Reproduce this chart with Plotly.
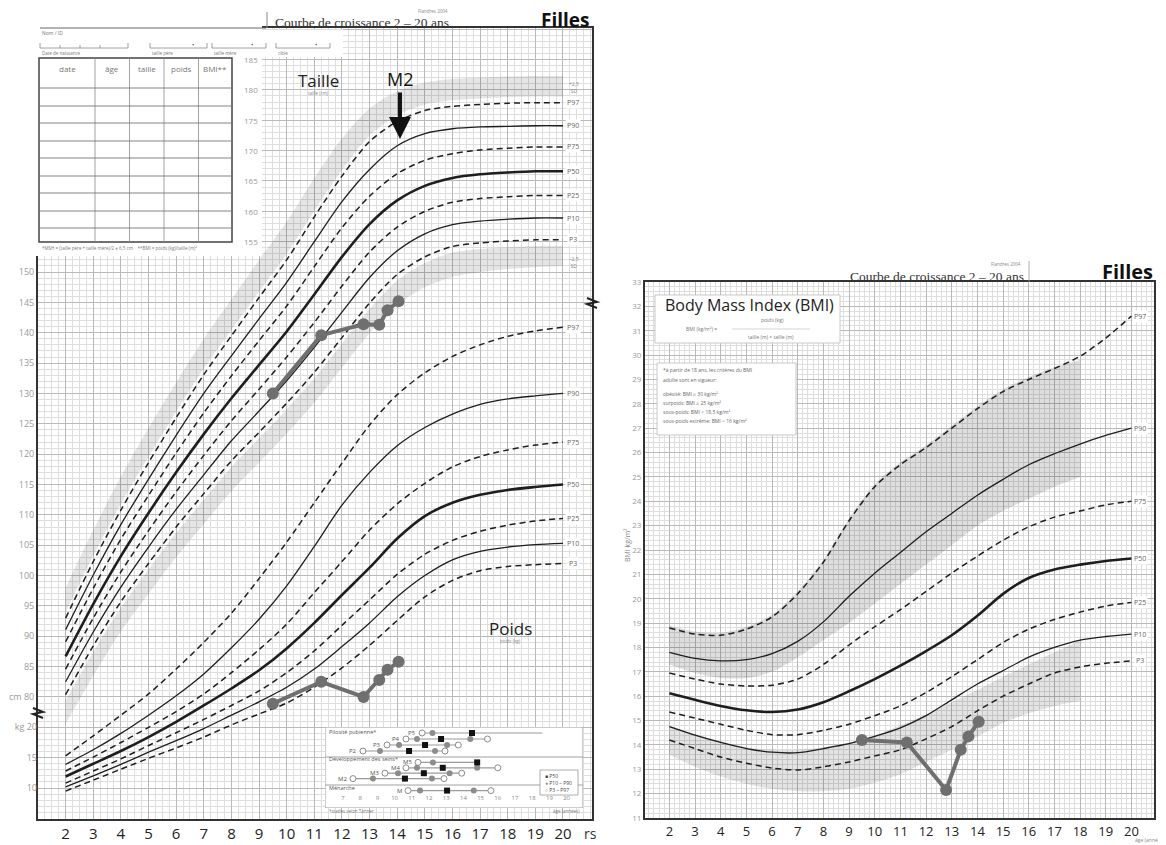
import plotly.graph_objects as go

# The page body adds an 8 px margin, so the figure is drawn 8 px smaller and all
# layout positions (given in screen pixels) are shifted by that offset.
OFF = 8
W, H = 1166 - OFF, 845 - OFF


def fx(p):
    return (p - OFF) / W


def fy(p):
    return 1 - (p - OFF) / H


# ---------------- data ----------------
ages = [2, 3, 4, 5, 6, 7, 8, 9, 10, 11, 12, 13, 14, 15, 16, 17, 18, 19, 20]
pct_names = ["P97", "P90", "P75", "P50", "P25", "P10", "P3"]

# height (cm)
h_p97 = [93.0, 102.3, 110.8, 118.6, 126.0, 133.1, 139.5, 145.8, 152.0, 159.1, 165.8, 171.5, 174.8, 176.6, 177.3, 177.6, 177.8, 177.9, 177.9]
h_p90 = [91.1, 100.1, 108.4, 115.9, 123.1, 130.0, 136.2, 142.3, 148.3, 155.0, 161.6, 166.9, 170.8, 172.8, 173.6, 173.9, 174.0, 174.1, 174.1]
h_p75 = [89.1, 97.9, 106.0, 113.2, 120.2, 126.8, 132.9, 138.7, 144.4, 150.9, 157.3, 162.5, 166.2, 168.4, 169.5, 170.1, 170.4, 170.6, 170.6]
h_p50 = [86.7, 95.3, 103.2, 110.3, 117.0, 123.3, 129.2, 134.7, 140.2, 146.3, 152.5, 157.9, 161.8, 164.2, 165.5, 166.1, 166.4, 166.6, 166.6]
h_p25 = [84.6, 93.0, 100.6, 107.4, 113.8, 119.8, 125.5, 130.7, 136.0, 141.7, 147.7, 153.3, 157.4, 160.0, 161.5, 162.1, 162.4, 162.6, 162.6]
h_p10 = [82.5, 90.7, 98.1, 104.7, 110.9, 116.6, 122.2, 127.1, 132.1, 137.6, 143.4, 149.1, 153.5, 156.3, 157.8, 158.4, 158.7, 158.9, 158.9]
h_p3 = [80.4, 88.4, 95.7, 102.0, 108.0, 113.5, 118.9, 123.6, 128.4, 133.5, 139.2, 144.9, 149.6, 152.5, 154.2, 154.8, 155.1, 155.3, 155.3]

# shaded zones along the outer height curves
hb_up_lo = [94.0, 103.3, 111.8, 119.6, 127.0, 134.1, 140.5, 146.8, 153.0, 160.1, 166.8, 172.5, 175.8, 177.6, 178.3, 178.6, 178.8, 178.9, 178.9]
hb_up_hi = [98.0, 107.5, 116.3, 124.3, 131.8, 139.0, 145.5, 152.0, 158.3, 165.5, 172.0, 177.0, 179.8, 181.2, 181.8, 182.0, 182.2, 182.3, 182.3]
hb_lo_hi = [79.4, 87.4, 94.7, 101.0, 107.0, 112.5, 117.9, 122.6, 127.4, 132.5, 138.2, 143.9, 148.6, 151.5, 153.2, 153.8, 154.1, 154.3, 154.3]
hb_lo_lo = [75.6, 83.5, 90.8, 97.0, 103.0, 108.5, 113.9, 118.6, 123.4, 128.5, 134.2, 139.9, 144.6, 147.5, 149.2, 150.0, 150.5, 150.8, 151.0]

# weight (kg)
w_p97 = [15.3, 18.6, 22.0, 25.5, 29.6, 34.0, 38.8, 44.5, 50.5, 57.0, 63.5, 69.8, 74.8, 78.4, 81.1, 83.0, 84.4, 85.3, 85.9]
w_p90 = [13.9, 16.3, 19.0, 22.0, 25.2, 28.8, 33.1, 37.8, 43.3, 49.8, 56.6, 62.0, 66.4, 69.4, 71.6, 73.2, 74.1, 74.6, 75.0]
w_p75 = [12.8, 15.1, 17.5, 20.0, 22.6, 25.5, 29.0, 32.8, 37.0, 42.2, 47.3, 52.5, 56.8, 60.2, 62.9, 64.6, 65.7, 66.5, 67.0]
w_p50 = [11.9, 14.0, 16.1, 18.4, 20.9, 23.6, 26.4, 29.4, 33.0, 37.2, 41.8, 46.3, 51.1, 54.8, 57.0, 58.3, 59.1, 59.6, 60.0]
w_p25 = [10.8, 12.8, 14.8, 17.0, 19.1, 21.3, 23.6, 26.0, 29.0, 32.6, 36.8, 41.0, 45.2, 48.5, 50.8, 52.3, 53.3, 54.0, 54.4]
w_p10 = [10.2, 12.0, 13.9, 15.9, 17.8, 19.8, 22.0, 24.2, 26.6, 29.6, 33.3, 37.2, 41.5, 45.0, 47.6, 49.0, 49.7, 50.1, 50.3]
w_p3 = [9.5, 11.3, 13.1, 14.9, 16.6, 18.4, 20.4, 22.2, 24.0, 26.6, 29.8, 33.5, 37.6, 41.5, 44.2, 45.8, 46.5, 46.8, 47.0]

# BMI (kg/m2)
b_p97 = [18.8, 18.55, 18.5, 18.75, 19.25, 20.2, 21.5, 23.2, 24.6, 25.5, 26.2, 27.0, 27.8, 28.5, 29.0, 29.45, 29.95, 30.7, 31.6]
b_p90 = [17.8, 17.55, 17.45, 17.5, 17.75, 18.25, 19.05, 20.1, 21.05, 21.9, 22.75, 23.5, 24.25, 24.9, 25.5, 25.95, 26.35, 26.7, 27.0]
b_p75 = [16.95, 16.7, 16.5, 16.42, 16.45, 16.7, 17.3, 18.1, 18.85, 19.55, 20.3, 21.05, 21.75, 22.4, 22.95, 23.35, 23.6, 23.85, 24.0]
b_p50 = [16.12, 15.85, 15.6, 15.42, 15.35, 15.45, 15.75, 16.2, 16.7, 17.25, 17.85, 18.5, 19.3, 20.2, 20.85, 21.2, 21.4, 21.55, 21.65]
b_p25 = [15.35, 15.1, 14.85, 14.6, 14.42, 14.42, 14.6, 14.85, 15.2, 15.6, 16.15, 16.8, 17.5, 18.2, 18.75, 19.15, 19.45, 19.7, 19.85]
b_p10 = [14.75, 14.4, 14.1, 13.85, 13.7, 13.68, 13.85, 14.05, 14.35, 14.7, 15.2, 15.85, 16.5, 17.05, 17.6, 18.0, 18.3, 18.45, 18.55]
b_p3 = [14.2, 13.85, 13.5, 13.25, 13.05, 12.97, 13.1, 13.3, 13.55, 13.8, 14.25, 14.75, 15.4, 16.0, 16.5, 16.95, 17.2, 17.35, 17.45]

band_ages = [2, 3, 4, 5, 6, 7, 8, 9, 10, 11, 12, 13, 14, 15, 16, 17, 18]
ob_lo = [17.3, 16.95, 16.75, 16.75, 17.0, 17.6, 18.3, 19.0, 19.8, 20.6, 21.4, 22.2, 23.0, 23.6, 24.1, 24.6, 25.0]
ob_hi = [18.9, 18.65, 18.6, 18.85, 19.35, 20.3, 21.6, 23.3, 24.7, 25.6, 26.3, 27.1, 27.9, 28.6, 29.1, 29.5, 29.8]
th_hi = [14.8, 14.45, 14.15, 13.9, 13.8, 13.8, 13.9, 14.1, 14.4, 14.8, 15.25, 15.75, 16.25, 16.8, 17.3, 17.8, 18.3]
th_lo = [13.6, 13.1, 12.7, 12.4, 12.2, 12.1, 12.1, 12.2, 12.45, 12.8, 13.3, 13.8, 14.35, 14.9, 15.3, 15.6, 15.8]

# child's measurements
visit_age = [9.5, 11.25, 12.78, 13.35, 13.65, 14.05]
child_height = [130.0, 139.6, 141.4, 141.3, 143.7, 145.2]
child_weight = [23.9, 27.5, 25.0, 27.8, 29.5, 30.8]
child_bmi = [14.2, 14.1, 12.15, 13.8, 14.35, 14.95]

# puberty inset (Tanner stages)
stage_labels = ["P5", "P4", "P3", "P2", "M5", "M4", "M3", "M2", "M"]
stage_rows = [1.0, 2.0, 3.0, 4.0, 5.9, 6.8, 7.7, 8.6, 10.6]
st_p3 = [11.6, 10.66, 9.56, 8.16, 11.36, 10.66, 9.44, 7.58, 10.78]
st_p10 = [12.2, 11.3, 10.26, 9.15, 12.23, 11.3, 10.2, 8.74, 11.48]
st_p50 = [14.5, 12.7, 11.77, 10.84, 14.8, 12.8, 11.7, 10.6, 13.05]
st_p90 = [None, 14.4, 13.05, 12.35, None, 14.8, 13.2, 12.17, 14.6]
st_p97 = [None, 15.4, 13.7, 12.93, None, 16.0, 13.9, 12.87, 15.6]
st_end = [18.6, 15.4, 13.7, 12.93, 14.8, 16.0, 13.9, 12.87, 15.6]
inset_ticks = [7, 8, 9, 10, 11, 12, 13, 14, 15, 16, 17, 18, 19, 20]

height_ticks_left = [80, 85, 90, 95, 100, 105, 110, 115, 120, 125, 130, 135, 140, 145, 150]
height_ticks_top = [155, 160, 165, 170, 175, 180, 185]
height_ticks_right = [150, 155, 160, 165, 170, 175, 180, 185, 190]
weight_ticks_left = [10, 15, 20]
weight_ticks_right = [5, 10, 15, 20, 25, 30, 35, 40, 45, 50, 55, 60, 65, 70, 75, 80, 85]
bmi_ticks = list(range(11, 34))

# ---------------- figure ----------------
fig = go.Figure()
INK = "#1e1e1e"
BAND = "rgba(0,0,0,0.10)"
CHILD = "#6f6f6f"


def band(xs, lo, hi, xa, ya, color):
    fig.add_trace(go.Scatter(x=xs, y=lo, xaxis=xa, yaxis=ya, mode="lines",
                             line=dict(width=0, shape="spline", smoothing=0.8),
                             hoverinfo="skip", showlegend=False))
    fig.add_trace(go.Scatter(x=xs, y=hi, xaxis=xa, yaxis=ya, mode="lines",
                             line=dict(width=0, shape="spline", smoothing=0.8),
                             fill="tonexty", fillcolor=color,
                             hoverinfo="skip", showlegend=False))


band(ages, hb_up_lo, hb_up_hi, "x", "y", BAND)
band(ages, hb_lo_lo, hb_lo_hi, "x", "y", BAND)
band(band_ages, ob_lo, ob_hi, "x2", "y5", "rgba(0,0,0,0.13)")
band(band_ages, th_lo, th_hi, "x2", "y5", "rgba(0,0,0,0.11)")

styles = {
    "P97": dict(width=1.5, dash="6px,4px"),
    "P90": dict(width=1.3),
    "P75": dict(width=1.5, dash="6px,4px"),
    "P50": dict(width=2.6),
    "P25": dict(width=1.5, dash="6px,4px"),
    "P10": dict(width=1.3),
    "P3": dict(width=1.5, dash="6px,4px"),
}


def curves(series, xa, ya):
    for name, vals in zip(pct_names, series):
        fig.add_trace(go.Scatter(x=ages, y=vals, xaxis=xa, yaxis=ya, mode="lines",
                                 line=dict(color=INK, shape="spline", smoothing=0.8,
                                           **styles[name]),
                                 hoverinfo="skip", showlegend=False))


height_series = [h_p97, h_p90, h_p75, h_p50, h_p25, h_p10, h_p3]
weight_series = [w_p97, w_p90, w_p75, w_p50, w_p25, w_p10, w_p3]
bmi_series = [b_p97, b_p90, b_p75, b_p50, b_p25, b_p10, b_p3]
curves(height_series, "x", "y")
curves(weight_series, "x", "y2")
curves(bmi_series, "x2", "y5")

child_style = dict(mode="lines+markers", line=dict(color=CHILD, width=4),
                   marker=dict(color=CHILD, size=12), hoverinfo="skip", showlegend=False)
fig.add_trace(go.Scatter(x=visit_age, y=child_height, xaxis="x", yaxis="y", **child_style))
fig.add_trace(go.Scatter(x=visit_age, y=child_weight, xaxis="x", yaxis="y2", **child_style))
fig.add_trace(go.Scatter(x=visit_age, y=child_bmi, xaxis="x2", yaxis="y5", **child_style))

# ---- puberty inset ----
fig.add_trace(go.Scatter(x=[5.953, 20.953, 20.953, 5.953, 5.953], y=[0, 0, 13.5, 13.5, 0],
                         xaxis="x3", yaxis="y7", mode="lines", fill="toself",
                         fillcolor="rgba(255,255,255,0.78)", line=dict(color="#9a9a9a", width=1),
                         hoverinfo="skip", showlegend=False))
for i in range(len(stage_labels)):
    fig.add_trace(go.Scatter(x=[st_p3[i], st_end[i]], y=[stage_rows[i], stage_rows[i]],
                             xaxis="x3", yaxis="y7", mode="lines",
                             line=dict(color="#9a9a9a", width=1.2),
                             hoverinfo="skip", showlegend=False))
open_x, open_y, grey_x, grey_y = [], [], [], []
for i in range(len(stage_labels)):
    for v in (st_p3[i], st_p97[i]):
        if v is not None:
            open_x.append(v)
            open_y.append(stage_rows[i])
    for v in (st_p10[i], st_p90[i]):
        if v is not None:
            grey_x.append(v)
            grey_y.append(stage_rows[i])
fig.add_trace(go.Scatter(x=open_x, y=open_y, xaxis="x3", yaxis="y7", mode="markers",
                         marker=dict(symbol="circle", size=6, color="white",
                                     line=dict(color="#8a8a8a", width=1)),
                         hoverinfo="skip", showlegend=False))
fig.add_trace(go.Scatter(x=grey_x, y=grey_y, xaxis="x3", yaxis="y7", mode="markers",
                         marker=dict(symbol="circle", size=6, color="#8c8c8c"),
                         hoverinfo="skip", showlegend=False))
fig.add_trace(go.Scatter(x=st_p50, y=stage_rows, xaxis="x3", yaxis="y7", mode="markers",
                         marker=dict(symbol="square", size=6, color="#111"),
                         hoverinfo="skip", showlegend=False))

# ---------------- axes ----------------
GRID = "#b9b9b9"
MINOR = "#dedede"
TICKGREY = dict(size=9, color="#9a9a9a", family="Open Sans")

xr_left = [1.0, 21.05]
yr_h = [59.9, 190.2]
yr_w = [yr_h[0] - 55, yr_h[1] - 55]

fig.update_layout(
    width=W, height=H, margin=dict(l=0, r=0, t=0, b=0, autoexpand=False),
    paper_bgcolor="white", plot_bgcolor="white", showlegend=False,
    xaxis=dict(domain=[fx(38), fx(592)], range=xr_left, anchor="y", automargin=False,
               tickmode="array", tickvals=ages, ticks="",
               tickfont=dict(size=15, color="#222", family="Open Sans"),
               showgrid=True, gridcolor=GRID, gridwidth=0.9, zeroline=False,
               minor=dict(dtick=0.25, tick0=0, showgrid=True, gridcolor=MINOR, gridwidth=0.5),
               showline=True, linecolor="#333", linewidth=2, mirror=True),
    yaxis=dict(domain=[fy(819), fy(28)], range=yr_h, anchor="x", automargin=False,
               tickmode="array", tickvals=list(range(60, 191, 5)),
               ticktext=[("cm 80" if v == 80 else str(v)) if v in height_ticks_left else "" for v in range(60, 191, 5)],
               tickfont=TICKGREY, ticks="",
               showgrid=True, gridcolor=GRID, gridwidth=0.9, zeroline=False,
               minor=dict(dtick=1, tick0=0, showgrid=True, gridcolor=MINOR, gridwidth=0.5),
               showline=True, linecolor="#333", linewidth=2, mirror=True),
    yaxis2=dict(overlaying="y", side="left", anchor="x", range=yr_w, automargin=False,
                tickmode="array", tickvals=weight_ticks_left,
                ticktext=["kg " + str(v) if v == 20 else str(v) for v in weight_ticks_left],
                tickfont=TICKGREY, ticks="", showgrid=False, zeroline=False, showline=False),
    yaxis3=dict(overlaying="y", side="right", anchor="x", range=yr_h, automargin=False,
                tickmode="array", tickvals=height_ticks_right, tickfont=TICKGREY, ticks="",
                showgrid=False, zeroline=False, showline=False),
    yaxis4=dict(overlaying="y", side="right", anchor="x", range=yr_w, automargin=False,
                tickmode="array", tickvals=weight_ticks_right, tickfont=TICKGREY, ticks="",
                showgrid=False, zeroline=False, showline=False),
    xaxis2=dict(domain=[fx(645), fx(1154)], range=[1.05, 20.88], anchor="y5", automargin=False,
                tickmode="array", tickvals=ages, ticks="",
                tickfont=dict(size=13, color="#222", family="Open Sans"),
                showgrid=True, gridcolor=GRID, gridwidth=0.9, zeroline=False,
                minor=dict(dtick=0.2, tick0=0, showgrid=True, gridcolor=MINOR, gridwidth=0.5),
                showline=True, linecolor="#333", linewidth=2, mirror=True),
    yaxis5=dict(domain=[fy(818), fy(282)], range=[11, 33], anchor="x2", automargin=False,
                tickmode="array", tickvals=bmi_ticks, tickfont=dict(size=8, color="#9a9a9a", family="Open Sans"),
                ticks="", showgrid=True, gridcolor=GRID, gridwidth=0.9, zeroline=False,
                minor=dict(dtick=0.2, tick0=0, showgrid=True, gridcolor=MINOR, gridwidth=0.5),
                showline=True, linecolor="#333", linewidth=2, mirror=True),
    yaxis6=dict(overlaying="y5", side="right", anchor="x2", range=[11, 33], automargin=False,
                tickmode="array", tickvals=bmi_ticks, tickfont=dict(size=8, color="#9a9a9a", family="Open Sans"),
                ticks="", showgrid=False, zeroline=False, showline=False),
    xaxis3=dict(domain=[fx(325), fx(583)], range=[5.953, 20.953], anchor="y7", automargin=False,
                tickmode="array", tickvals=inset_ticks, ticks="", ticklabelposition="inside",
                ticklabelstandoff=4,
                tickfont=dict(size=6, color="#888", family="Open Sans"),
                showgrid=False, zeroline=False, showline=False),
    yaxis7=dict(domain=[fy(808), fy(727)], range=[13.5, 0], anchor="x3", visible=False,
                automargin=False),
)

# ---------------- decorations ----------------
shapes = []
ann = []


def rect(x0, y0, x1, y1, fill="white", line="rgba(0,0,0,0)", lw=0):
    shapes.append(dict(type="rect", xref="paper", yref="paper", x0=fx(x0), x1=fx(x1),
                       y0=fy(y1), y1=fy(y0), fillcolor=fill, line=dict(color=line, width=lw),
                       layer="above"))


def hline(x0, x1, y, color="#555", w=1):
    shapes.append(dict(type="line", xref="paper", yref="paper", x0=fx(x0), x1=fx(x1),
                       y0=fy(y), y1=fy(y), line=dict(color=color, width=w), layer="above"))


def vline(x, y0, y1, color="#555", w=1):
    shapes.append(dict(type="line", xref="paper", yref="paper", x0=fx(x), x1=fx(x),
                       y0=fy(y0), y1=fy(y1), line=dict(color=color, width=w), layer="above"))


def text(x, y, s, size=8, color="#666", family="Open Sans", xanchor="center", **kw):
    ann.append(dict(xref="paper", yref="paper", x=fx(x), y=fy(y), text=s, showarrow=False,
                    font=dict(size=size, color=color, family=family), xanchor=xanchor,
                    yanchor="middle", **kw))


# white form area over the top-left of the growth chart
rect(OFF, OFF, 262, 256)
rect(262, 29.5, 343, 57)
# header line + fields
hline(40, 266, 28, "#666", 1)
vline(267, 12, 28, "#888", 1)
text(40, 33, "Nom / ID", 5, "#777", xanchor="left")
for (a, b, lab) in [(40, 128, "Date de naissance"), (150, 207, "taille père"),
                    (212, 266, "taille mère"), (276, 330, "cible")]:
    hline(a, b, 48, "#888", 0.8)
    vline(a, 43, 48, "#888", 0.8)
    vline(b, 43, 48, "#888", 0.8)
    text(a, 53, lab, 4.5, "#777", xanchor="left")
for t in (60, 80, 100):
    vline(t, 45, 48, "#888", 0.8)
for d in (193, 252, 316):
    text(d, 45, "•", 6, "#333")
# table
rect(39, 58, 232, 242, fill="white", line="#444", lw=1.5)
for cx in (95, 129.5, 164, 198.5):
    vline(cx, 58, 242, "#8a8a8a", 0.8)
for ry in (88, 106, 123, 141, 158, 176, 193, 211, 228):
    hline(39, 232, ry, "#777", 0.9)
for cx, lab in zip((67, 112, 147, 181, 215), ("date", "âge", "taille", "poids", "BMI**")):
    text(cx, 68, lab, 8, "#777")
text(40, 248, "*MSH = (taille père + taille mère)/2 ± 6,5 cm    **BMI = poids (kg)/taille (m)²",
     4.5, "#777", xanchor="left")

# top-of-chart height labels sitting left of the grid
for v in height_ticks_top:
    text(251, 29 + (190 - v) * 6.073, str(v), 8, "#9a9a9a")

# headers
text(362, 22.5, "Courbe de croissance 2 – 20 ans", 13.5, "#333", "Liberation Serif", borderpad=0)
text(433, 10.5, "Flandres 2004", 4.5, "#888", borderpad=0)
text(565, 20, "<b>Filles</b>", 19, "#111", "Open Sans", borderpad=0)
text(937, 276, "Courbe de croissance 2 – 20 ans", 13.5, "#333", "Liberation Serif", borderpad=0)
text(1006, 263.5, "Flandres 2004", 4.5, "#888", borderpad=0)
vline(1029, 261, 282, "#999", 0.8)
text(1127, 271, "<b>Filles</b>", 20, "#111", "Open Sans", borderpad=0)

# chart titles
text(318, 80, "Taille", 17, "#222")
text(318, 93, "taille (cm)", 4.5, "#888")
text(510, 628, "Poids", 17, "#222")
text(510, 641, "poids (kg)", 4.5, "#888")
text(590, 833, "rs", 14, "#333")

# M2 arrow on the P90 height curve
ann.append(dict(xref="x", yref="y", x=14.1, y=h_p90[12] + 0.1 * (h_p90[13] - h_p90[12]) + 0.9,
                text="M2", showarrow=True, ax=0, ay=-60, arrowhead=2, arrowsize=1.1,
                arrowwidth=4, arrowcolor="#111", standoff=0,
                font=dict(size=18, color="#111", family="Open Sans")))

# curve end labels
for name, vals in zip(pct_names, height_series):
    ann.append(dict(xref="x", yref="y", x=20.38, y=vals[-1], text=name, showarrow=False,
                    font=dict(size=7, color="#666"), bgcolor="white"))
for name, vals in zip(pct_names, weight_series):
    ann.append(dict(xref="x", yref="y2", x=20.38, y=vals[-1], text=name, showarrow=False,
                    font=dict(size=7, color="#666"), bgcolor="white"))
for name, vals in zip(pct_names, bmi_series):
    ann.append(dict(xref="x2", yref="y5", x=20.35, y=vals[-1], text=name, showarrow=False,
                    font=dict(size=7, color="#666"), bgcolor="white"))
text(574, 88, "+2,5<br>SD", 5, "#888")
text(574, 262, "–2,5<br>SD", 5, "#888")

# axis breaks
for (bx, by) in [(38, 713), (592, 303)]:
    shapes.append(dict(type="path", xref="paper", yref="paper",
                       path="M {} {} L {} {} L {} {} L {} {}".format(
                           fx(bx - 5), fy(by - 5), fx(bx + 5), fy(by - 1),
                           fx(bx - 5), fy(by + 1), fx(bx + 5), fy(by + 5)),
                       line=dict(color="#222", width=2), layer="above"))

# inset texts
for i, lab in enumerate(stage_labels):
    ann.append(dict(xref="x3", yref="y7", x=st_p3[i] - 0.25, y=stage_rows[i], text=lab,
                    showarrow=False, xanchor="right", font=dict(size=6, color="#555")))
for (row, lab) in [(0.8, "Pilosité pubienne*"), (5.4, "Développement des seins*"), (10.15, "Ménarche")]:
    ann.append(dict(xref="x3", yref="y7", x=6.05, y=row, text=lab, showarrow=False,
                    xanchor="left", font=dict(size=5.5, color="#555")))
for row in (5.0, 9.67):
    shapes.append(dict(type="line", xref="x3", yref="y7", x0=5.953, x1=20.953, y0=row, y1=row,
                       line=dict(color="#a0a0a0", width=1), layer="above"))
text(327, 811, "*stades selon Tanner", 4.5, "#777", xanchor="left")
text(582, 811, "âge (années)", 4.5, "#777", xanchor="right")
rect(540, 770, 578, 795, fill="white", line="#999", lw=0.8)
text(543, 776, "■ P50", 5, "#444", xanchor="left")
text(543, 783, "<span style='color:#8c8c8c'>●</span> P10 – P90", 5, "#444", xanchor="left")
text(543, 790, "○ P3 – P97", 5, "#444", xanchor="left")

# BMI info boxes
rect(655, 295, 840, 343, fill="white", line="#c8c8c8", lw=1)
text(749, 305, "Body Mass Index (BMI)", 16, "#222")
text(772, 320, "poids (kg)", 5, "#777")
hline(732, 810, 329, "#bbb", 0.6)
text(701, 329, "BMI (kg/m²) =", 5, "#777")
text(771, 337, "taille (m) × taille (m)", 5, "#777")
rect(657, 363, 796, 435, fill="white", line="#c8c8c8", lw=1)
for yy, s in [(370, "*à partir de 18 ans, les critères du BMI"), (380, "adulte sont en vigueur:"),
              (394, "obésité: BMI ≥ 30 kg/m²"), (403, "surpoids: BMI ≥ 25 kg/m²"),
              (412, "sous-poids: BMI < 18,5 kg/m²"), (421, "sous-poids extrême: BMI < 16 kg/m²")]:
    text(661, yy, s, 5, "#666", xanchor="left")
text(627, 545, "BMI kg/m²", 7, "#888", textangle=-90)
text(1150, 840, "âge (années)", 5, "#888")

fig.update_layout(shapes=shapes, annotations=ann)
fig.write_html("out.html")
